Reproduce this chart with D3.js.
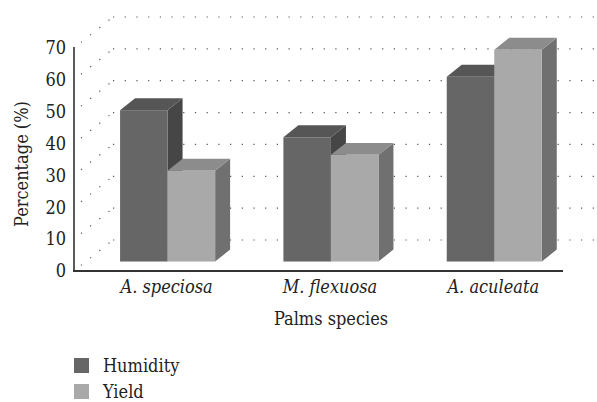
<!DOCTYPE html>
<html>
<head>
<meta charset="utf-8">
<script src="https://cdn.jsdelivr.net/npm/d3@7"></script>
<style>
  body { margin: 0; background: #fff; }
  svg { display: block; }
</style>
</head>
<body>
<svg id="chart"></svg>
<script>
// data
var categories = ["A. speciosa", "M. flexuosa", "A. aculeata"];
var seriesNames = ["Humidity", "Yield"];
var humidity = [47.5, 39, 58];
var yieldVals = [28.5, 33.5, 66.5];
var yTicks = [0, 10, 20, 30, 40, 50, 60, 70];

var FONT = "'DejaVu Serif Condensed', 'DejaVu Serif', serif";
var FS = "18px";
var svgWidth = 597, svgHeight = 402;
var svg = d3.select("#chart").attr("width", svgWidth).attr("height", svgHeight)
  .style("font-family", FONT);

// front axis scales
var x = d3.scaleBand().domain(categories).range([74, 564]).paddingInner(0.418).paddingOuter(0.209);
var xs = d3.scaleBand().domain(seriesNames).range([0, x.bandwidth()]);
var y = d3.scaleLinear().domain([0, 70]).range([271, 48]);

// oblique depth (full wall depth), bars sit between f1 and f2
var depth = { dx: 39, dy: -31 };
var f1 = 0.306, f2 = 0.69;

var frontCol = { Humidity: "#666666", Yield: "#a9a9a9" };
var topCol = { Humidity: "#565656", Yield: "#8c8c8c" };
var sideCol = { Humidity: "#464646", Yield: "#707070" };

// gridlines: back wall + left wall diagonals
var grid = svg.append("g").attr("stroke", "#555").attr("stroke-width", 1.2).attr("fill", "none");
yTicks.forEach(function (t) {
  grid.append("line")
    .attr("x1", 74 + depth.dx).attr("y1", y(t) + depth.dy)
    .attr("x2", 610).attr("y2", y(t) + depth.dy)
    .attr("stroke-dasharray", "1.2,10.5");
  grid.append("line")
    .attr("x1", 74).attr("y1", y(t))
    .attr("x2", 74 + depth.dx).attr("y2", y(t) + depth.dy)
    .attr("stroke-dasharray", "1.2,10.5")
    .attr("stroke-dashoffset", -9);
});

// bars
var bars = [];
categories.forEach(function (c, i) {
  bars.push({ cat: c, s: "Humidity", v: humidity[i] });
  bars.push({ cat: c, s: "Yield", v: yieldVals[i] });
});

var g = svg.append("g");
bars.forEach(function (d) {
  var ox = depth.dx * f1, oy = depth.dy * f1;
  var bx = depth.dx * (f2 - f1), by = depth.dy * (f2 - f1);
  var x0 = x(d.cat) + xs(d.s) + ox;
  var x1 = x0 + xs.bandwidth();
  var yb = y(0) + oy;
  var yt = y(d.v) + oy;
  // side
  g.append("path").attr("fill", sideCol[d.s])
    .attr("d", "M" + x1 + "," + yt + "L" + (x1 + bx) + "," + (yt + by) +
      "L" + (x1 + bx) + "," + (yb + by) + "L" + x1 + "," + yb + "Z");
  // top
  g.append("path").attr("fill", topCol[d.s])
    .attr("d", "M" + x0 + "," + yt + "L" + (x0 + bx) + "," + (yt + by) +
      "L" + (x1 + bx) + "," + (yt + by) + "L" + x1 + "," + yt + "Z");
  // front
  g.append("rect").attr("fill", frontCol[d.s])
    .attr("x", x0).attr("y", yt).attr("width", x1 - x0).attr("height", yb - yt);
});

// axes lines
svg.append("line").attr("x1", 74).attr("x2", 74).attr("y1", 47).attr("y2", 272)
  .attr("stroke", "#333").attr("stroke-width", 1.6);
svg.append("line").attr("x1", 73).attr("x2", 563).attr("y1", 271).attr("y2", 271)
  .attr("stroke", "#333").attr("stroke-width", 1.8);

// y tick labels
svg.append("g").selectAll("text").data(yTicks).enter().append("text")
  .attr("x", 66).attr("y", function (d) { return y(d); })
  .attr("dy", "0.35em").attr("text-anchor", "end")
  .style("font-family", FONT).style("font-size", FS).attr("fill", "#222")
  .text(function (d) { return d; });

// category labels
svg.append("g").selectAll("text").data(categories).enter().append("text")
  .attr("x", function (d) { return x(d) + x.bandwidth() / 2 + depth.dx * f1 - 1; })
  .attr("y", 293).attr("text-anchor", "middle").attr("fill", "#222")
  .style("font-family", FONT).style("font-size", FS).style("font-style", "italic")
  .text(function (d) { return d; });

// axis titles
svg.append("text").attr("x", 331).attr("y", 325).attr("text-anchor", "middle").attr("fill", "#222")
  .style("font-family", FONT).style("font-size", FS).text("Palms species");
svg.append("text").attr("transform", "translate(28,164) rotate(-90)").attr("fill", "#222")
  .attr("text-anchor", "middle").style("font-family", FONT).style("font-size", FS).text("Percentage (%)");

// legend
var leg = svg.append("g").selectAll("g").data(seriesNames).enter().append("g")
  .attr("transform", function (d, i) { return "translate(74," + (358 + i * 26) + ")"; });
leg.append("rect").attr("width", 15).attr("height", 15)
  .attr("fill", function (d) { return frontCol[d]; });
leg.append("text").attr("x", 29).attr("y", 14).attr("fill", "#222")
  .style("font-family", FONT).style("font-size", FS)
  .text(function (d) { return d; });
</script>
</body>
</html>
